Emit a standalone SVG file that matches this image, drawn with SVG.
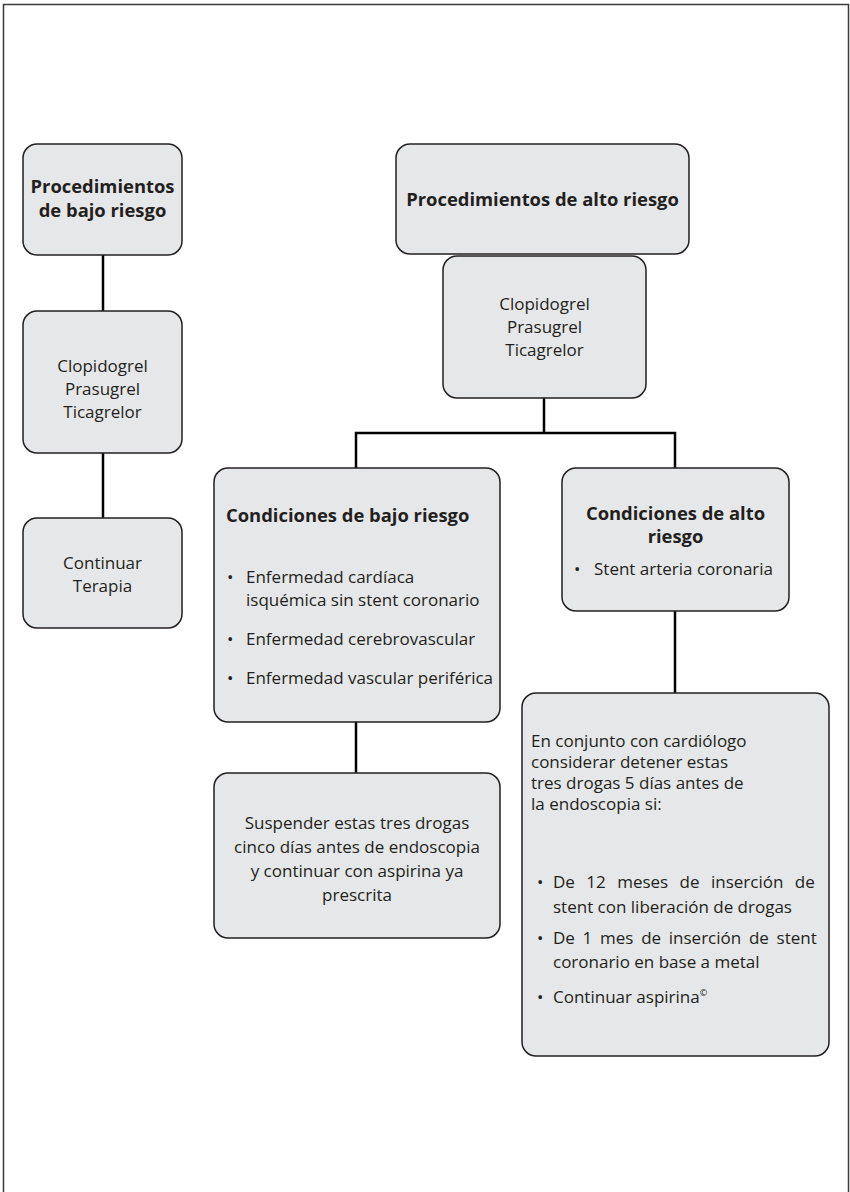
<svg xmlns="http://www.w3.org/2000/svg" width="850" height="1192" viewBox="0 0 850 1192">
  <style>
    .box { fill: #e6e7e8; stroke: #231f20; stroke-width: 1.5; }
    .t { font-family: "Open Sans", "Noto Sans", sans-serif; font-size: 17px; fill: #231f20; }
    .b { font-family: "Open Sans", "Noto Sans", sans-serif; font-size: 18.4px; font-weight: bold; fill: #231f20; }
    .c { text-anchor: middle; }
    .wire { fill: none; stroke: #000; stroke-width: 2.5; }
  </style>
  <rect width="850" height="1192" fill="#fff"/>
  <rect x="3.5" y="4.5" width="845" height="1200" fill="none" stroke="#3a3a3a" stroke-width="1.5"/>

  <!-- connectors -->
  <g id="connectors" class="wire">
    <line x1="103" y1="255" x2="103" y2="311"/>
    <line x1="103" y1="453" x2="103" y2="518"/>
    <line x1="544" y1="398" x2="544" y2="433"/>
    <polyline points="356,468 356,433 675,433 675,468"/>
    <line x1="356" y1="722" x2="356" y2="773"/>
    <line x1="675" y1="611" x2="675" y2="693"/>
  </g>

  <!-- low-risk procedures column -->
  <g id="low-proc">
    <rect class="box" x="23" y="144" width="159" height="111" rx="14"/>
    <text class="b c" x="102.5" y="193">Procedimientos</text>
    <text class="b c" x="102.5" y="217">de bajo riesgo</text>
  </g>
  <g id="low-drugs">
    <rect class="box" x="23" y="311" width="159" height="142" rx="14"/>
    <text class="t c" x="102.5" y="372">Clopidogrel</text>
    <text class="t c" x="102.5" y="395">Prasugrel</text>
    <text class="t c" x="102.5" y="418">Ticagrelor</text>
  </g>
  <g id="low-continue">
    <rect class="box" x="23" y="518" width="159" height="110" rx="14"/>
    <text class="t c" x="102.5" y="569">Continuar</text>
    <text class="t c" x="102.5" y="592">Terapia</text>
  </g>

  <!-- high-risk procedures tree -->
  <g id="high-proc">
    <rect class="box" x="396" y="144" width="293" height="110" rx="14"/>
    <text class="b c" x="542.5" y="206">Procedimientos de alto riesgo</text>
  </g>
  <g id="high-drugs">
    <rect class="box" x="443" y="256" width="203" height="142" rx="14"/>
    <text class="t c" x="544.5" y="310">Clopidogrel</text>
    <text class="t c" x="544.5" y="333">Prasugrel</text>
    <text class="t c" x="544.5" y="356">Ticagrelor</text>
  </g>

  <g id="low-cond">
    <rect class="box" x="214" y="468" width="286" height="254" rx="14"/>
    <text class="b" x="226" y="522">Condiciones de bajo riesgo</text>
    <text class="t" x="227" y="583">•</text>
    <text class="t" x="246" y="583">Enfermedad cardíaca</text>
    <text class="t" x="246" y="606">isquémica sin stent coronario</text>
    <text class="t" x="227" y="645">•</text>
    <text class="t" x="246" y="645">Enfermedad cerebrovascular</text>
    <text class="t" x="227" y="684">•</text>
    <text class="t" x="246" y="684">Enfermedad vascular periférica</text>
  </g>

  <g id="high-cond">
    <rect class="box" x="562" y="468" width="227" height="143" rx="14"/>
    <text class="b c" x="675.5" y="520">Condiciones de alto</text>
    <text class="b c" x="675.5" y="543">riesgo</text>
    <text class="t" x="574" y="575">•</text>
    <text class="t" x="594" y="575">Stent arteria coronaria</text>
  </g>

  <g id="suspend">
    <rect class="box" x="214" y="773" width="286" height="165" rx="14"/>
    <text class="t c" x="357" y="829">Suspender estas tres drogas</text>
    <text class="t c" x="357" y="853">cinco días antes de endoscopia</text>
    <text class="t c" x="357" y="877">y continuar con aspirina ya</text>
    <text class="t c" x="357" y="901">prescrita</text>
  </g>

  <g id="consider">
    <rect class="box" x="522" y="693" width="307" height="363" rx="14"/>
    <text class="t" x="531" y="747">En conjunto con cardiólogo</text>
    <text class="t" x="531" y="768">considerar detener estas</text>
    <text class="t" x="531" y="789">tres drogas 5 días antes de</text>
    <text class="t" x="531" y="810">la endoscopia si:</text>
    <text class="t" x="537" y="888">•</text>
    <text class="t" x="553" y="888" word-spacing="7">De 12 meses de inserción de</text>
    <text class="t" x="553" y="913">stent con liberación de drogas</text>
    <text class="t" x="537" y="944">•</text>
    <text class="t" x="553" y="944" word-spacing="3.3">De 1 mes de inserción de stent</text>
    <text class="t" x="553" y="968">coronario en base a metal</text>
    <text class="t" x="537" y="1003">•</text>
    <text class="t" x="553" y="1003">Continuar aspirina<tspan font-size="9" dy="-7">©</tspan></text>
  </g>
</svg>
